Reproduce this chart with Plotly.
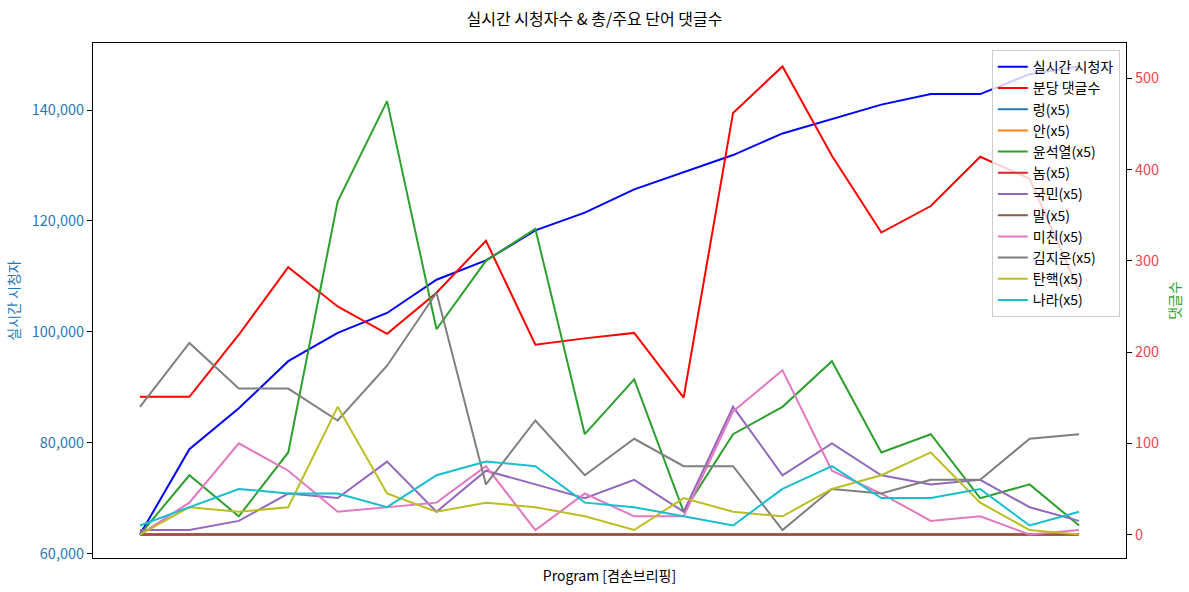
import plotly.graph_objects as go

# ---- data ----
idx = list(range(20))
viewers = [63400, 78800, 86200, 94700, 99800, 103400, 109400, 112900, 118300, 121500,
           125700, 128800, 131900, 135800, 138400, 141000, 142900, 142900, 146500, 147900]
comments_per_min = [151, 151, 219, 293, 250, 220, 265, 322, 208, 215,
                    221, 150, 462, 513, 415, 331, 360, 414, 390, 267]

w_ryeong = [0] * 20
w_an = [0] * 20
w_yoon = [0, 65, 20, 90, 365, 475, 225, 300, 335, 110, 170, 25, 110, 140, 190, 90, 110, 40, 55, 10]
w_nom = [0] * 20
w_gukmin = [5, 5, 15, 45, 40, 80, 25, 70, 55, 40, 60, 25, 140, 65, 100, 65, 55, 60, 30, 15]
w_mal = [0] * 20
w_michin = [0, 35, 100, 70, 25, 30, 35, 75, 5, 45, 20, 20, 135, 180, 70, 45, 15, 20, 0, 5]
w_kimjieun = [140, 210, 160, 160, 125, 185, 265, 55, 125, 65, 105, 75, 75, 5, 50, 45, 60, 60, 105, 110]
w_tanhaek = [0, 30, 25, 30, 140, 45, 25, 35, 30, 20, 5, 40, 25, 20, 50, 65, 90, 35, 5, 0]
w_nara = [10, 30, 50, 45, 45, 30, 65, 80, 75, 35, 30, 20, 10, 50, 75, 40, 40, 50, 10, 25]

word_names = ["렁(x5)", "안(x5)", "윤석열(x5)", "놈(x5)", "국민(x5)", "말(x5)",
              "미친(x5)", "김지은(x5)", "탄핵(x5)", "나라(x5)"]
word_series = [w_ryeong, w_an, w_yoon, w_nom, w_gukmin, w_mal,
               w_michin, w_kimjieun, w_tanhaek, w_nara]
word_colors = ["#1f77b4", "#ff7f0e", "#2ca02c", "#d62728", "#9467bd",
               "#8c564b", "#e377c2", "#7f7f7f", "#bcbd22", "#17becf"]

left_ticks = [60000, 80000, 100000, 120000, 140000]
right_ticks = [0, 100, 200, 300, 400, 500]

FONT = "Noto Sans CJK KR"

fig = go.Figure()
fig.add_trace(go.Scatter(x=idx, y=viewers, mode="lines", name="실시간 시청자",
                         line=dict(color="#0000ff", width=2), yaxis="y"))
fig.add_trace(go.Scatter(x=idx, y=comments_per_min, mode="lines", name="분당 댓글수",
                         line=dict(color="#ff0000", width=2), yaxis="y2"))
for name, vals, col in zip(word_names, word_series, word_colors):
    fig.add_trace(go.Scatter(x=idx, y=vals, mode="lines", name=name,
                             line=dict(color=col, width=2), yaxis="y2"))

vmin, vmax = min(viewers), max(viewers)
pad = 0.05 * (vmax - vmin)
cmax = max(max(comments_per_min), max(max(s) for s in word_series))
cmin = 0
pad2 = 0.05 * (cmax - cmin)

fig.update_layout(
    width=1189, height=592,
    margin=dict(l=93, r=63, t=43, b=34, autoexpand=False),
    paper_bgcolor="white", plot_bgcolor="white",
    font=dict(family=FONT, size=14, color="#000000"),
    title=dict(text="실시간 시청자수 & 총/주요 단어 댓글수", x=0.5, xref="container",
               xanchor="center", y=1 - 19 / 592, yref="container", yanchor="middle",
               font=dict(size=16, family=FONT), automargin=False),
    xaxis=dict(range=[-0.95, 19.95], showticklabels=False, ticks="", showgrid=False,
               zeroline=False, showline=True, linecolor="black", linewidth=1, mirror=True,
               automargin=False,
               title=dict(text="Program [겸손브리핑]", font=dict(size=14, family=FONT), standoff=13)),
    yaxis=dict(range=[vmin - pad, vmax + pad], tickvals=left_ticks, tickformat=",",
               ticks="outside", ticklen=5, tickcolor="black", tickwidth=1,
               tickfont=dict(color="#1f77b4", size=14.5, family=FONT),
               showgrid=False, zeroline=False, showline=True, linecolor="black", linewidth=1,
               automargin=False,
               title=dict(text="실시간 시청자", font=dict(color="#1f77b4", size=14, family=FONT), standoff=8)),
    yaxis2=dict(range=[cmin - pad2, cmax + pad2], tickvals=right_ticks, overlaying="y", side="right",
                ticks="outside", ticklen=5, tickcolor="black", tickwidth=1,
                tickfont=dict(color="#e0474c", size=14.5, family=FONT),
                showgrid=False, zeroline=False, showline=True, linecolor="black", linewidth=1,
                automargin=False,
                title=dict(text="댓글수", font=dict(color="#2ca02c", size=14, family=FONT), standoff=12)),
    legend=dict(x=0.994, xanchor="right", y=0.986, yanchor="top",
                bgcolor="rgba(255,255,255,0.8)", bordercolor="#cccccc", borderwidth=1,
                font=dict(size=14, family=FONT), itemwidth=30, tracegroupgap=0),
    showlegend=True,
)

fig.write_html("out.html", config={"displayModeBar": False},
               post_script="document.body.style.margin='0';document.body.style.padding='0';")
